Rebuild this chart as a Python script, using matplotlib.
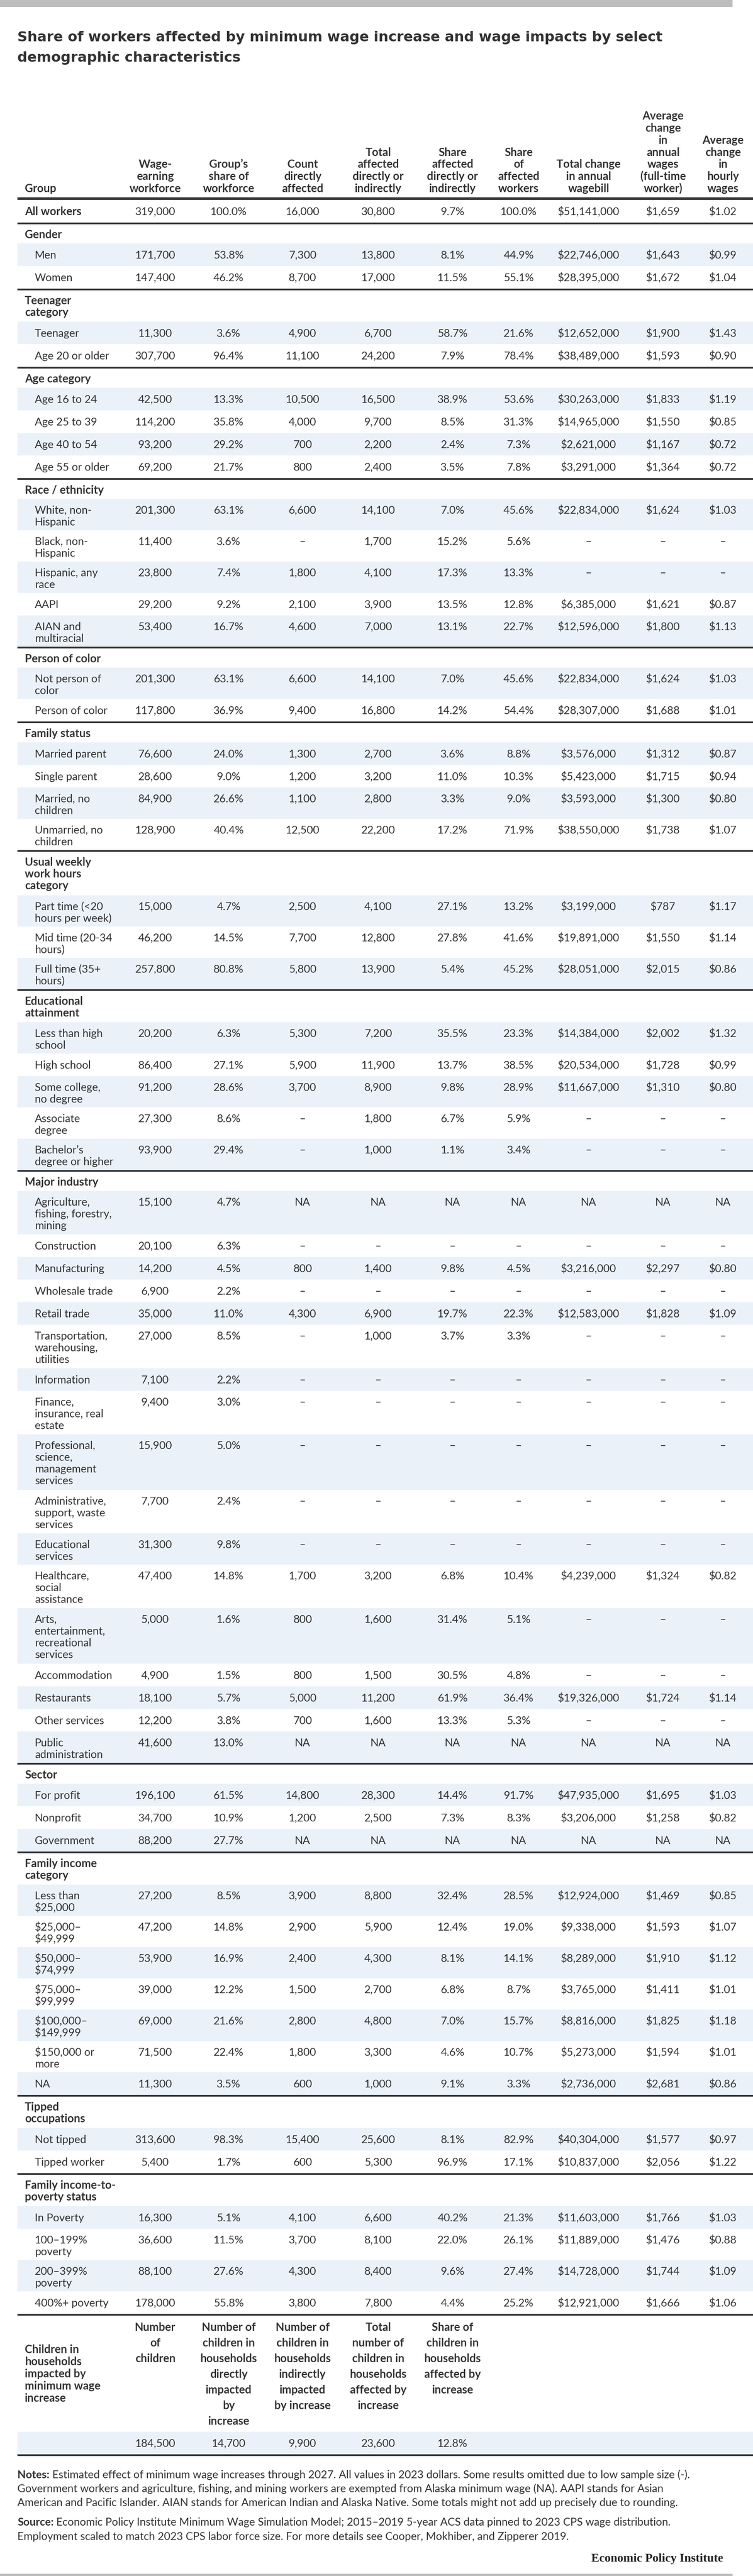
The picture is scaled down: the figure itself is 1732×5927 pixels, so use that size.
import matplotlib
matplotlib.use('Agg')
import matplotlib.pyplot as plt
from matplotlib.patches import Rectangle

plt.rcParams['font.family'] = ['Lato', 'DejaVu Sans']

# ---------------- data ----------------
title_lines = ["Share of workers affected by minimum wage increase and wage impacts by select",
               "demographic characteristics"]

column_headers = ["Group",
                  "Wage-\nearning\nworkforce",
                  "Group\u2019s\nshare of\nworkforce",
                  "Count\ndirectly\naffected",
                  "Total\naffected\ndirectly or\nindirectly",
                  "Share\naffected\ndirectly or\nindirectly",
                  "Share\nof\naffected\nworkers",
                  "Total change\nin annual\nwagebill",
                  "Average\nchange\nin\nannual\nwages\n(full-time\nworker)",
                  "Average\nchange\nin\nhourly\nwages"]

D = "\u2013"   # omitted (low sample size)
NA = "NA"

all_workers_label = "All workers"
all_workers_vals = ["319,000", "100.0%", "16,000", "30,800", "9.7%", "100.0%", "$51,141,000", "$1,659", "$1.02"]

gender_rows = ["Men", "Women"]
gender_vals = [
    ["171,700", "53.8%", "7,300", "13,800", "8.1%", "44.9%", "$22,746,000", "$1,643", "$0.99"],
    ["147,400", "46.2%", "8,700", "17,000", "11.5%", "55.1%", "$28,395,000", "$1,672", "$1.04"],
]

teen_rows = ["Teenager", "Age 20 or older"]
teen_vals = [
    ["11,300", "3.6%", "4,900", "6,700", "58.7%", "21.6%", "$12,652,000", "$1,900", "$1.43"],
    ["307,700", "96.4%", "11,100", "24,200", "7.9%", "78.4%", "$38,489,000", "$1,593", "$0.90"],
]

age_rows = ["Age 16 to 24", "Age 25 to 39", "Age 40 to 54", "Age 55 or older"]
age_vals = [
    ["42,500", "13.3%", "10,500", "16,500", "38.9%", "53.6%", "$30,263,000", "$1,833", "$1.19"],
    ["114,200", "35.8%", "4,000", "9,700", "8.5%", "31.3%", "$14,965,000", "$1,550", "$0.85"],
    ["93,200", "29.2%", "700", "2,200", "2.4%", "7.3%", "$2,621,000", "$1,167", "$0.72"],
    ["69,200", "21.7%", "800", "2,400", "3.5%", "7.8%", "$3,291,000", "$1,364", "$0.72"],
]

race_rows = ["White, non-\nHispanic", "Black, non-\nHispanic", "Hispanic, any\nrace", "AAPI", "AIAN and\nmultiracial"]
race_vals = [
    ["201,300", "63.1%", "6,600", "14,100", "7.0%", "45.6%", "$22,834,000", "$1,624", "$1.03"],
    ["11,400", "3.6%", D, "1,700", "15.2%", "5.6%", D, D, D],
    ["23,800", "7.4%", "1,800", "4,100", "17.3%", "13.3%", D, D, D],
    ["29,200", "9.2%", "2,100", "3,900", "13.5%", "12.8%", "$6,385,000", "$1,621", "$0.87"],
    ["53,400", "16.7%", "4,600", "7,000", "13.1%", "22.7%", "$12,596,000", "$1,800", "$1.13"],
]

poc_rows = ["Not person of\ncolor", "Person of color"]
poc_vals = [
    ["201,300", "63.1%", "6,600", "14,100", "7.0%", "45.6%", "$22,834,000", "$1,624", "$1.03"],
    ["117,800", "36.9%", "9,400", "16,800", "14.2%", "54.4%", "$28,307,000", "$1,688", "$1.01"],
]

family_rows = ["Married parent", "Single parent", "Married, no\nchildren", "Unmarried, no\nchildren"]
family_vals = [
    ["76,600", "24.0%", "1,300", "2,700", "3.6%", "8.8%", "$3,576,000", "$1,312", "$0.87"],
    ["28,600", "9.0%", "1,200", "3,200", "11.0%", "10.3%", "$5,423,000", "$1,715", "$0.94"],
    ["84,900", "26.6%", "1,100", "2,800", "3.3%", "9.0%", "$3,593,000", "$1,300", "$0.80"],
    ["128,900", "40.4%", "12,500", "22,200", "17.2%", "71.9%", "$38,550,000", "$1,738", "$1.07"],
]

hours_rows = ["Part time (<20\nhours per week)", "Mid time (20-34\nhours)", "Full time (35+\nhours)"]
hours_vals = [
    ["15,000", "4.7%", "2,500", "4,100", "27.1%", "13.2%", "$3,199,000", "$787", "$1.17"],
    ["46,200", "14.5%", "7,700", "12,800", "27.8%", "41.6%", "$19,891,000", "$1,550", "$1.14"],
    ["257,800", "80.8%", "5,800", "13,900", "5.4%", "45.2%", "$28,051,000", "$2,015", "$0.86"],
]

edu_rows = ["Less than high\nschool", "High school", "Some college,\nno degree", "Associate\ndegree",
            "Bachelor\u2019s\ndegree or higher"]
edu_vals = [
    ["20,200", "6.3%", "5,300", "7,200", "35.5%", "23.3%", "$14,384,000", "$2,002", "$1.32"],
    ["86,400", "27.1%", "5,900", "11,900", "13.7%", "38.5%", "$20,534,000", "$1,728", "$0.99"],
    ["91,200", "28.6%", "3,700", "8,900", "9.8%", "28.9%", "$11,667,000", "$1,310", "$0.80"],
    ["27,300", "8.6%", D, "1,800", "6.7%", "5.9%", D, D, D],
    ["93,900", "29.4%", D, "1,000", "1.1%", "3.4%", D, D, D],
]

industry_rows = ["Agriculture,\nfishing, forestry,\nmining", "Construction", "Manufacturing", "Wholesale trade",
                 "Retail trade", "Transportation,\nwarehousing,\nutilities", "Information",
                 "Finance,\ninsurance, real\nestate", "Professional,\nscience,\nmanagement\nservices",
                 "Administrative,\nsupport, waste\nservices", "Educational\nservices",
                 "Healthcare,\nsocial\nassistance", "Arts,\nentertainment,\nrecreational\nservices",
                 "Accommodation", "Restaurants", "Other services", "Public\nadministration"]
industry_vals = [
    ["15,100", "4.7%", NA, NA, NA, NA, NA, NA, NA],
    ["20,100", "6.3%", D, D, D, D, D, D, D],
    ["14,200", "4.5%", "800", "1,400", "9.8%", "4.5%", "$3,216,000", "$2,297", "$0.80"],
    ["6,900", "2.2%", D, D, D, D, D, D, D],
    ["35,000", "11.0%", "4,300", "6,900", "19.7%", "22.3%", "$12,583,000", "$1,828", "$1.09"],
    ["27,000", "8.5%", D, "1,000", "3.7%", "3.3%", D, D, D],
    ["7,100", "2.2%", D, D, D, D, D, D, D],
    ["9,400", "3.0%", D, D, D, D, D, D, D],
    ["15,900", "5.0%", D, D, D, D, D, D, D],
    ["7,700", "2.4%", D, D, D, D, D, D, D],
    ["31,300", "9.8%", D, D, D, D, D, D, D],
    ["47,400", "14.8%", "1,700", "3,200", "6.8%", "10.4%", "$4,239,000", "$1,324", "$0.82"],
    ["5,000", "1.6%", "800", "1,600", "31.4%", "5.1%", D, D, D],
    ["4,900", "1.5%", "800", "1,500", "30.5%", "4.8%", D, D, D],
    ["18,100", "5.7%", "5,000", "11,200", "61.9%", "36.4%", "$19,326,000", "$1,724", "$1.14"],
    ["12,200", "3.8%", "700", "1,600", "13.3%", "5.3%", D, D, D],
    ["41,600", "13.0%", NA, NA, NA, NA, NA, NA, NA],
]

sector_rows = ["For profit", "Nonprofit", "Government"]
sector_vals = [
    ["196,100", "61.5%", "14,800", "28,300", "14.4%", "91.7%", "$47,935,000", "$1,695", "$1.03"],
    ["34,700", "10.9%", "1,200", "2,500", "7.3%", "8.3%", "$3,206,000", "$1,258", "$0.82"],
    ["88,200", "27.7%", NA, NA, NA, NA, NA, NA, NA],
]

income_rows = ["Less than\n$25,000", "$25,000\u2013\n$49,999", "$50,000\u2013\n$74,999", "$75,000\u2013\n$99,999",
               "$100,000\u2013\n$149,999", "$150,000 or\nmore", "NA"]
income_vals = [
    ["27,200", "8.5%", "3,900", "8,800", "32.4%", "28.5%", "$12,924,000", "$1,469", "$0.85"],
    ["47,200", "14.8%", "2,900", "5,900", "12.4%", "19.0%", "$9,338,000", "$1,593", "$1.07"],
    ["53,900", "16.9%", "2,400", "4,300", "8.1%", "14.1%", "$8,289,000", "$1,910", "$1.12"],
    ["39,000", "12.2%", "1,500", "2,700", "6.8%", "8.7%", "$3,765,000", "$1,411", "$1.01"],
    ["69,000", "21.6%", "2,800", "4,800", "7.0%", "15.7%", "$8,816,000", "$1,825", "$1.18"],
    ["71,500", "22.4%", "1,800", "3,300", "4.6%", "10.7%", "$5,273,000", "$1,594", "$1.01"],
    ["11,300", "3.5%", "600", "1,000", "9.1%", "3.3%", "$2,736,000", "$2,681", "$0.86"],
]

tipped_rows = ["Not tipped", "Tipped worker"]
tipped_vals = [
    ["313,600", "98.3%", "15,400", "25,600", "8.1%", "82.9%", "$40,304,000", "$1,577", "$0.97"],
    ["5,400", "1.7%", "600", "5,300", "96.9%", "17.1%", "$10,837,000", "$2,056", "$1.22"],
]

poverty_rows = ["In Poverty", "100\u2013199%\npoverty", "200\u2013399%\npoverty", "400%+ poverty"]
poverty_vals = [
    ["16,300", "5.1%", "4,100", "6,600", "40.2%", "21.3%", "$11,603,000", "$1,766", "$1.03"],
    ["36,600", "11.5%", "3,700", "8,100", "22.0%", "26.1%", "$11,889,000", "$1,476", "$0.88"],
    ["88,100", "27.6%", "4,300", "8,400", "9.6%", "27.4%", "$14,728,000", "$1,744", "$1.09"],
    ["178,000", "55.8%", "3,800", "7,800", "4.4%", "25.2%", "$12,921,000", "$1,666", "$1.06"],
]

children_label = "Children in\nhouseholds\nimpacted by\nminimum wage\nincrease"
children_headers = ["Number\nof\nchildren",
                    "Number of\nchildren in\nhouseholds\ndirectly\nimpacted\nby\nincrease",
                    "Number of\nchildren in\nhouseholds\nindirectly\nimpacted\nby increase",
                    "Total\nnumber of\nchildren in\nhouseholds\naffected by\nincrease",
                    "Share of\nchildren in\nhouseholds\naffected by\nincrease"]
children_vals = ["184,500", "14,700", "9,900", "23,600", "12.8%"]

notes_lines = [("Notes:", " Estimated effect of minimum wage increases through 2027. All values in 2023 dollars. Some results omitted due to low sample size (-)."),
               ("", "Government workers and agriculture, fishing, and mining workers are exempted from Alaska minimum wage (NA). AAPI stands for Asian"),
               ("", "American and Pacific Islander. AIAN stands for American Indian and Alaska Native. Some totals might not add up precisely due to rounding.")]
source_lines = [("Source:", " Economic Policy Institute Minimum Wage Simulation Model; 2015\u20132019 5-year ACS data pinned to 2023 CPS wage distribution."),
                ("", "Employment scaled to match 2023 CPS labor force size. For more details see Cooper, Mokhiber, and Zipperer 2019.")]
logo_text = "Economic Policy Institute"

sections = [
    ("Gender", gender_rows, gender_vals),
    ("Teenager\ncategory", teen_rows, teen_vals),
    ("Age category", age_rows, age_vals),
    ("Race / ethnicity", race_rows, race_vals),
    ("Person of color", poc_rows, poc_vals),
    ("Family status", family_rows, family_vals),
    ("Usual weekly\nwork hours\ncategory", hours_rows, hours_vals),
    ("Educational\nattainment", edu_rows, edu_vals),
    ("Major industry", industry_rows, industry_vals),
    ("Sector", sector_rows, sector_vals),
    ("Family income\ncategory", income_rows, income_vals),
    ("Tipped\noccupations", tipped_rows, tipped_vals),
    ("Family income-to-\npoverty status", poverty_rows, poverty_vals),
]

# ---------------- layout ----------------
W, H = 1732, 5927
TEXT = '#333333'
SHADE = '#eaf1f9'
RULE = '#333333'
FS = 18
FSB = 18.5
LEFT = 40
col_x = [357, 526, 696, 870, 1041, 1193, 1354, 1525, 1663]
BASE = 9  # baseline offset from line centre

fig = plt.figure(figsize=(W / 100, H / 100), dpi=100)
ax = fig.add_axes([0, 0, 1, 1])
ax.set_xlim(0, W)
ax.set_ylim(H, 0)
ax.axis('off')


def txt(x, yc, s, ha='left', weight='normal', size=None, **kw):
    if size is None:
        size = FSB if weight == 'bold' else FS
    return ax.text(x, yc + BASE, s, ha=ha, va='baseline', fontsize=size,
                   fontweight=weight, color=TEXT, **kw)


def rule(y, t=4):
    ax.add_patch(Rectangle((LEFT, y), W - LEFT, t, facecolor=RULE, edgecolor='none'))
    return y + t


def row(y, label, vals, shaded, label_x=80, weight='normal'):
    lines = label.split('\n')
    n = len(lines)
    h = max(52, 16 + 28 * n)
    if shaded:
        ax.add_patch(Rectangle((LEFT, y), W - LEFT, h, facecolor=SHADE, edgecolor='none'))
    first = y + 26 if n == 1 else y + 25
    for i, ln in enumerate(lines):
        txt(label_x, first + 27 * i, ln, weight=weight)
    for x, v in zip(col_x, vals):
        txt(x, first, v, ha='center')
    return y + h


def section_header(y, title):
    lines = title.split('\n')
    for i, ln in enumerate(lines):
        txt(57, y + 23 + 27 * i, ln, weight='bold')
    return y + 16 + 28 * len(lines)


# grey bars
ax.add_patch(Rectangle((0, 0), 1685, 16, facecolor='#bdbdbd', edgecolor='none'))
ax.add_patch(Rectangle((0, 5922), 1685, 5, facecolor='#bdbdbd', edgecolor='none'))

# title
for i, ln in enumerate(title_lines):
    ax.text(LEFT, 95 + 47 * i, ln, ha='left', va='baseline', fontsize=23,
            fontweight='bold', color=TEXT, family=['DejaVu Sans'])

# column headers (bottom aligned)
for j, hdr in enumerate(column_headers):
    lines = hdr.split('\n')
    n = len(lines)
    for i, ln in enumerate(lines):
        yc = 433 - 27.8 * (n - 1 - i)
        if j == 0:
            txt(57, yc, ln, weight='bold')
        else:
            txt(col_x[j - 1], yc, ln, ha='center', weight='bold')

y = rule(454, 6)
y = row(y, all_workers_label, all_workers_vals, False, label_x=57, weight='bold')
y = rule(y)

for title, labels, vals in sections:
    y = section_header(y, title)
    for k, (lab, v) in enumerate(zip(labels, vals)):
        y = row(y, lab, v, k % 2 == 0)
    y = rule(y)

# children block
top = y
hh = 267
lab_lines = children_label.split('\n')
cmid = top + hh / 2
for i, ln in enumerate(lab_lines):
    txt(57, cmid + 28 * (i - (len(lab_lines) - 1) / 2), ln, weight='bold')
for j, hdr in enumerate(children_headers):
    for i, ln in enumerate(hdr.split('\n')):
        txt(col_x[j], top + 26 + 36 * i, ln, ha='center', weight='bold')
y = top + hh
ax.add_patch(Rectangle((LEFT, y), W - LEFT, 52, facecolor=SHADE, edgecolor='none'))
for x, v in zip(col_x, children_vals):
    txt(x, y + 26, v, ha='center')
y = rule(y + 52)

# notes and source
fig.canvas.draw()
renderer = fig.canvas.get_renderer()


def rich(yb, bold, rest, size=FS):
    x = LEFT
    if bold:
        t = ax.text(x, yb, bold, ha='left', va='baseline', fontsize=size,
                    fontweight='bold', color=TEXT)
        bb = t.get_window_extent(renderer=renderer)
        x = x + bb.width
    ax.text(x, yb, rest, ha='left', va='baseline', fontsize=size, color=TEXT)


for i, (b, r) in enumerate(notes_lines):
    rich(5702 + 32 * i, b, r)
for i, (b, r) in enumerate(source_lines):
    rich(5811 + 33 * i, b, r)

ax.text(1663, 5894, logo_text, ha='right', va='baseline', fontsize=20,
        fontweight='bold', family=['Liberation Serif', 'DejaVu Serif'], color='#222222')

fig.savefig('out.png', dpi=100)
